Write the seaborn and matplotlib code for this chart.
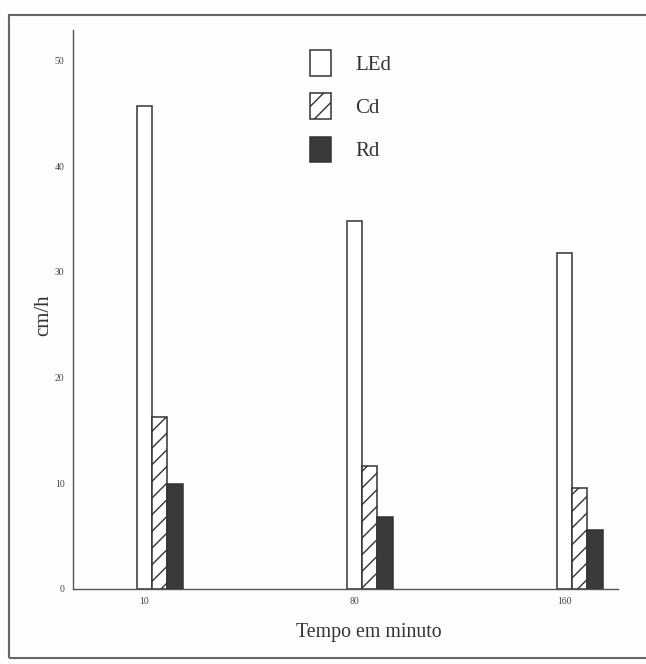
import matplotlib
matplotlib.use("Agg")
import matplotlib.pyplot as plt
from matplotlib.patches import Rectangle
import seaborn as sns
import pandas as pd

tempos = ["10", "80", "160"]
series = ["LEd", "Cd", "Rd"]
led = [45.7, 34.8, 31.8]
cd = [16.3, 11.6, 9.6]
rd = [9.9, 6.8, 5.6]

rows = []
for s, vals in zip(series, [led, cd, rd]):
    for t, v in zip(tempos, vals):
        rows.append({"Tempo": t, "Serie": s, "valor": v})
df = pd.DataFrame(rows)

sns.set_style("white")
plt.rcParams["font.family"] = ["Liberation Serif", "DejaVu Serif"]
plt.rcParams["hatch.linewidth"] = 1.0
plt.rcParams["hatch.color"] = "#333333"

W, H = 646, 664
fig = plt.figure(figsize=(W / 100, H / 100), dpi=100, facecolor="#fdfdfb")
ax = fig.add_axes([73 / W, 1 - 589 / H, (618 - 73) / W, (589 - 30) / H])
ax.set_facecolor("#fdfdfb")

bw = 0.22
palette = {"LEd": "#ffffff", "Cd": "#ffffff", "Rd": "#3a3a3a"}
sns.barplot(data=df, x="Tempo", y="valor", hue="Serie", order=tempos,
            hue_order=series, palette=palette, width=bw, edgecolor="#333333",
            linewidth=1.1, saturation=1, ax=ax, legend=False)

for p in ax.containers[1].patches:
    p.set_hatch("//")

ax.set_ylim(0, 52.9)
ax.set_xlim(-0.413, 2.182)
ax.set_yticks([0, 10, 20, 30, 40, 50])
ax.set_xticks([i - bw / 3 for i in range(len(tempos))])
ax.set_xticklabels(tempos)
ax.tick_params(axis="both", labelsize=7, colors="#444444", length=3, width=0.8,
               pad=3)
for s in ["top", "right"]:
    ax.spines[s].set_visible(False)
for s in ["left", "bottom"]:
    ax.spines[s].set_color("#555555")
    ax.spines[s].set_linewidth(1.0)

ax.set_xlabel("Tempo em minuto", fontsize=14.3, color="#333333", labelpad=12)
ax.xaxis.label.set_x((369 - 73) / (618 - 73))
ax.set_ylabel("cm/h", fontsize=15, color="#333333", labelpad=1)
ax.yaxis.label.set_y((589 - 315) / (589 - 30))

leg = ax.legend(handles=list(ax.containers), labels=series, loc="upper left",
                bbox_to_anchor=((302 - 73) / (618 - 73), (589 - 42) / (589 - 30)),
                frameon=False, fontsize=15, handlelength=1.0, handleheight=1.5,
                handletextpad=1.15, labelspacing=0.85, borderaxespad=0)
for t in leg.get_texts():
    t.set_color("#333333")

fig.patches.append(Rectangle((9 / W, 6 / H), 1.0, (658 - 15) / H,
                             transform=fig.transFigure, fill=False,
                             edgecolor="#666666", linewidth=1.5))

fig.savefig("out.png", dpi=100, facecolor=fig.get_facecolor())
